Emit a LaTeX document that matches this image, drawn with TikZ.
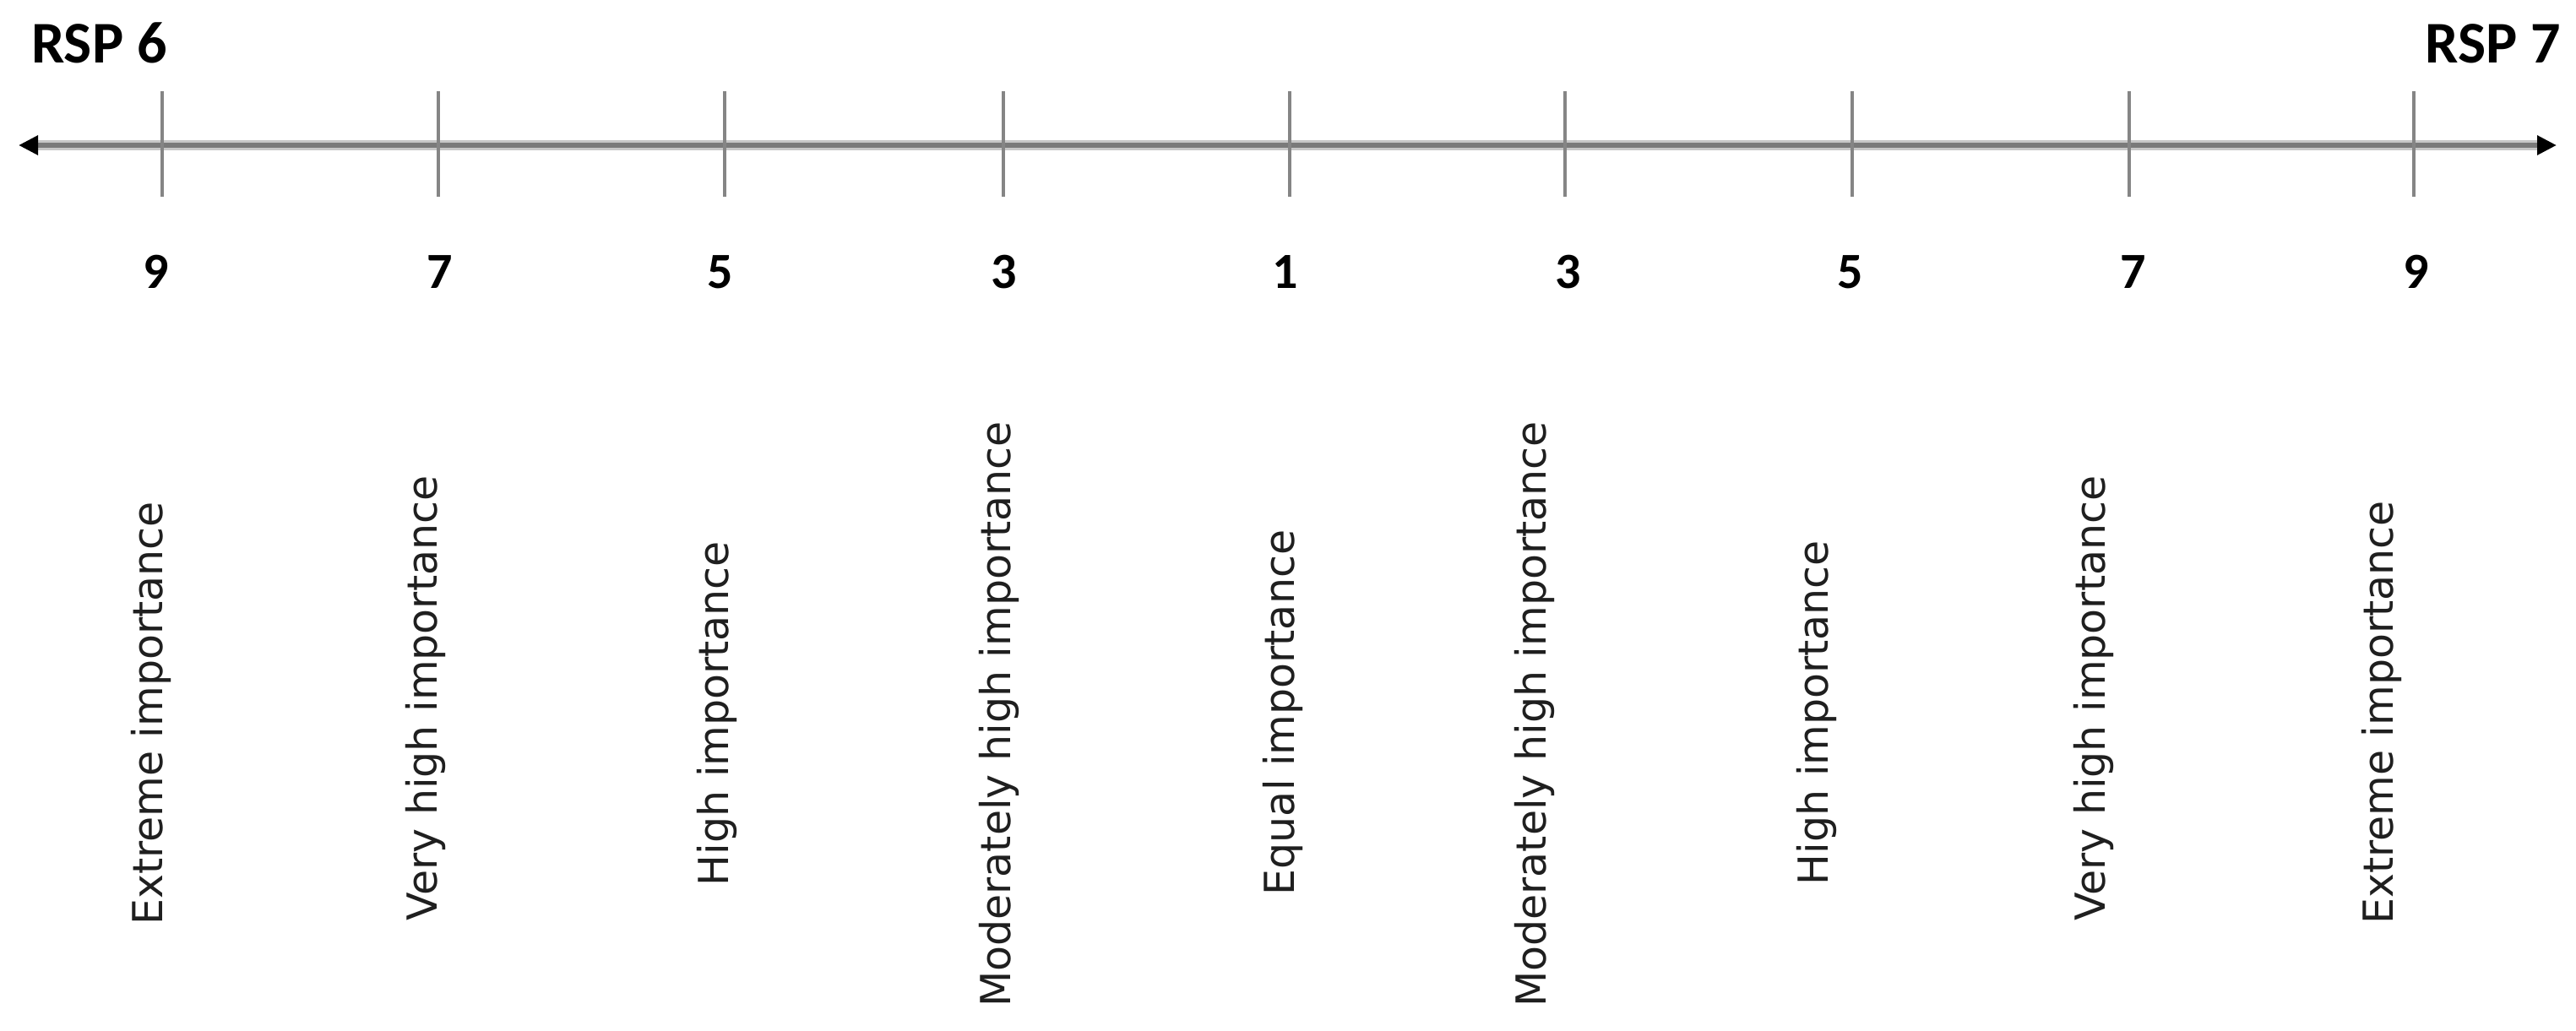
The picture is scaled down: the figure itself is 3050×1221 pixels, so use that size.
\documentclass[tikz,border=0pt]{standalone}
\usepackage{fontspec}
\setmainfont{DejaVu Sans}
\newfontfamily\boldcal{Carlito}[BoldFont={* Bold}]
\usetikzlibrary{arrows.meta}
\tikzset{
  halo/.style={draw=black!22, line width=12pt},
  axisline/.style={draw=black!52, line width=6pt,
    {Triangle[length=23pt,width=22pt,color=black]}-{Triangle[length=23pt,width=22pt,color=black]}},
  tickline/.style={draw=black!48, line width=4pt},
  title/.style={inner sep=0pt, font=\boldcal\bfseries\fontsize{70}{80}\selectfont},
  numlab/.style={inner sep=0pt, anchor=base, font=\boldcal\bfseries\fontsize{60}{70}\selectfont},
  scalelab/.style={inner sep=0pt, anchor=mid, rotate=90, text=black!88,
    font=\fontsize{49}{58}\selectfont}
}
\begin{document}
\begin{tikzpicture}[x=1pt,y=-1pt]
\fill[white] (0,0) rectangle (3050,1221);
\useasboundingbox (0,0) rectangle (3050,1221);

% axis
\coordinate (L) at (22,172);
\coordinate (R) at (3027,172);
\coordinate (Lh) at (44,172);
\coordinate (Rh) at (3005,172);
\draw[halo] (Lh) -- (Rh);
\draw[axisline] (L) -- (R);

% ticks
\foreach \i/\x in {1/192,2/519,3/858,4/1188,5/1527,6/1853,7/2193,8/2521,9/2858}{
  \coordinate (tt\i) at (\x,108);
  \coordinate (tb\i) at (\x,233);
  \draw[tickline] (tt\i) -- (tb\i);
}

% titles
\node[title, anchor=base west] (rsp6) at (37,74) {RSP 6};
\node[title, anchor=base east] (rsp7) at (3032,74) {RSP 7};

% numbers
\node[numlab] (n1) at (185,341) {9};
\node[numlab] (n2) at (521,341) {7};
\node[numlab] (n3) at (853,341) {5};
\node[numlab] (n4) at (1189,341) {3};
\node[numlab] (n5) at (1522,341) {1};
\node[numlab] (n6) at (1857,341) {3};
\node[numlab] (n7) at (2191,341) {5};
\node[numlab] (n8) at (2526,341) {7};
\node[numlab] (n9) at (2861,341) {9};

% labels
\node[scalelab] (l1) at (190,845) {Extreme importance};
\node[scalelab] (l2) at (515,827) {Very high importance};
\node[scalelab] (l3) at (860,845) {High importance};
\node[scalelab] (l4) at (1194,846) {Moderately high importance};
\node[scalelab] (l5) at (1530,844) {Equal importance};
\node[scalelab] (l6) at (1828,846) {Moderately high importance};
\node[scalelab] (l7) at (2162,844) {High importance};
\node[scalelab] (l8) at (2490,827) {Very high importance};
\node[scalelab] (l9) at (2831,844) {Extreme importance};
\end{tikzpicture}
\end{document}
